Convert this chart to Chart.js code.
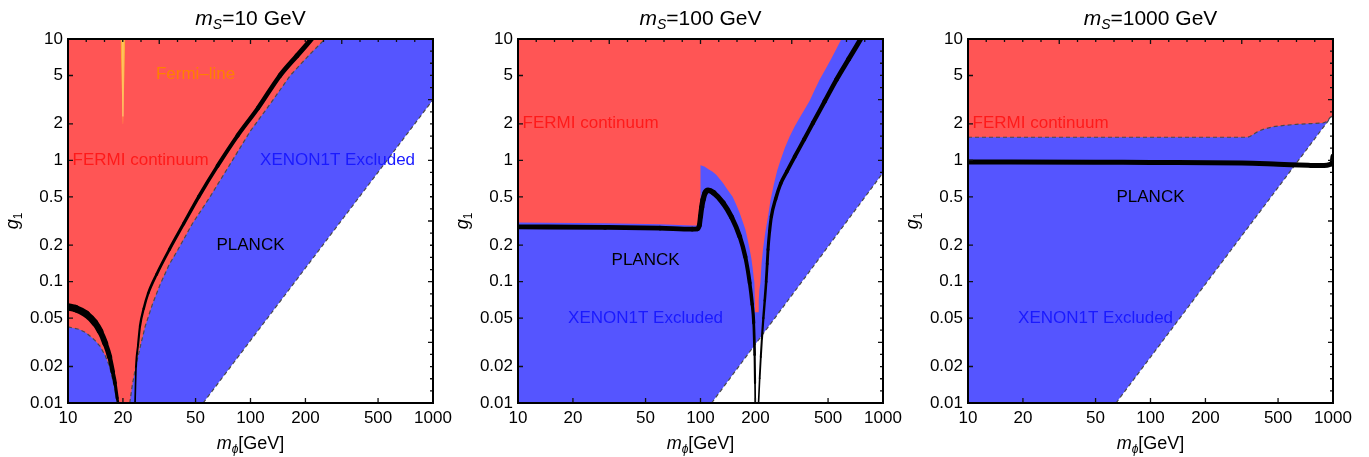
<!DOCTYPE html>
<html lang="en">
<head>
<meta charset="UTF-8">
<title>g1 vs m_phi for three m_S</title>
<script src="https://cdn.jsdelivr.net/npm/chart.js"></script>
<style>
  body { margin: 0; background: #fff; }
  .wrap { position: relative; width: 1369px; height: 457px; }
  canvas { position: absolute; top: 0; }
</style>
</head>
<body>
<div class="wrap">
  <canvas id="c1" width="458" height="457" style="left:0px"></canvas>
  <canvas id="c2" width="458" height="457" style="left:450px"></canvas>
  <canvas id="c3" width="458" height="457" style="left:900px"></canvas>
</div>
<script>
// axes
const xTicks = [10, 20, 50, 100, 200, 500, 1000];
const yTicks = [0.01, 0.02, 0.05, 0.1, 0.2, 0.5, 1, 2, 5, 10];
const massS = [10, 100, 1000];

// m_S = 10 GeV  ([m_phi, g1] pairs)
const xenonEdge10 = [[10, 0.01], [55, 0.01], [1000, 3.16]];
const fermiEdge10 = [
  [10, 0.0424], [11.5, 0.0405], [12.6, 0.0378], [14, 0.033], [15, 0.0293], [16, 0.0245],
  [16.9, 0.02], [17.6, 0.0155], [18.1, 0.0129], [18.6, 0.01],
  [21.8, 0.01], [22.5, 0.014], [23.5, 0.02], [25, 0.03], [26.5, 0.043], [29, 0.065],
  [32, 0.095], [36, 0.14], [40, 0.183], [48, 0.3], [60, 0.5], [78, 0.95], [100, 1.75],
  [130, 3], [165, 5], [210, 7.4], [256, 10], [1000, 10]
];
const planckLeft10 = [
  [10, 0.062], [11, 0.06], [12.6, 0.054], [14, 0.046], [15, 0.039], [16, 0.031],
  [16.9, 0.024], [17.6, 0.018], [18.1, 0.0146], [18.6, 0.011], [18.8, 0.01]
];
const planckRight10 = [
  [23.3, 0.01], [23.6, 0.02], [24.2, 0.03], [24.8, 0.043], [26, 0.06], [27.5, 0.08],
  [30.6, 0.115], [36, 0.185], [43, 0.3], [52, 0.5], [66, 0.9], [85, 1.6], [110, 2.7],
  [145, 5], [180, 7.3], [216, 10]
];
const fermiLine10 = [[19.4, 10], [19.96, 2], [20.04, 2], [20.6, 10]];
const fermiLineCore10 = [[20, 2.3], [20, 10]];

// m_S = 100 GeV
const xenonEdge100 = [[10, 0.01], [115, 0.01], [1000, 0.79]];
const fermiEdge100 = [
  [10, 0.308], [30, 0.303], [60, 0.297], [90, 0.29], [99.5, 0.29], [100, 0.91],
  [105, 0.89], [110, 0.85], [116, 0.81], [122, 0.76], [132.8, 0.651], [141, 0.57],
  [150, 0.5], [157, 0.43], [164, 0.368], [170, 0.315], [176, 0.27], [181, 0.225],
  [186, 0.184], [190, 0.155], [193, 0.13], [195.5, 0.11], [197.5, 0.0976], [198.5, 0.07],
  [199, 0.056], [207.5, 0.056], [208.5, 0.07], [210, 0.085], [212.9, 0.0976], [216, 0.14],
  [220, 0.184], [226, 0.25], [234.4, 0.345], [242, 0.47], [252, 0.63], [263, 0.82],
  [275, 1.01], [290, 1.27], [308, 1.57], [328, 1.9], [350, 2.25], [373, 2.65], [396.5, 3.1],
  [422, 3.8], [450, 4.63], [483, 5.6], [517, 6.76], [553, 8.2], [592, 10], [1000, 10]
];
const planckMain100 = [
  [10, 0.283], [30, 0.28], [60, 0.276], [90, 0.271], [96, 0.272], [98.5, 0.29], [100, 0.345],
  [101.5, 0.41], [103.3, 0.474], [106, 0.54], [110, 0.566], [118, 0.54], [132.8, 0.446],
  [148, 0.34], [164, 0.236], [176, 0.16], [186, 0.0976], [192, 0.065], [195.7, 0.0457],
  [198, 0.025], [199, 0.0146], [199.5, 0.01]
];
const planckRight100 = [
  [208, 0.01], [211, 0.016], [214, 0.024], [217, 0.034], [221, 0.05], [225, 0.07],
  [229, 0.1], [232, 0.14], [234.4, 0.184], [239, 0.26], [244.6, 0.345], [258, 0.48],
  [275, 0.643], [297, 0.807], [328, 1.069], [370, 1.49], [413, 2.03], [479, 3.06],
  [556, 4.63], [649, 6.84], [755, 10]
];

// m_S = 1000 GeV
const xenonEdge1000 = [[10, 0.01], [64.7, 0.01], [1000, 2.39]];
const fermiEdge1000 = [
  [10, 1.55], [100, 1.55], [340, 1.55], [350, 1.57], [360, 1.61], [374, 1.67], [388, 1.73],
  [410, 1.79], [430, 1.83], [469, 1.89], [540, 1.94], [630, 1.98], [760, 2.01], [882, 2.03],
  [920, 2.08], [945, 2.17], [970, 2.28], [1000, 2.4]
];
const planck1000 = [
  [10, 0.97], [50, 0.965], [100, 0.96], [316, 0.952], [500, 0.93], [731, 0.91], [850, 0.905],
  [927, 0.91], [965, 0.925], [988, 0.95], [1000, 1.08]
];

// region labels: [text, m_phi, g1, kind]
const notes10 = [
  ['Fermi\u2013line', 50, 5.1, 'line'],
  ['FERMI continuum', 25, 1, 'fermi'],
  ['XENON1T Excluded', 300, 1, 'xenon'],
  ['PLANCK', 100, 0.2, 'planck']
];
const notes100 = [
  ['FERMI continuum', 25, 2, 'fermi'],
  ['PLANCK', 50, 0.151, 'planck'],
  ['XENON1T Excluded', 50, 0.05, 'xenon']
];
const notes1000 = [
  ['FERMI continuum', 25, 2, 'fermi'],
  ['PLANCK', 100, 0.5, 'planck'],
  ['XENON1T Excluded', 50, 0.05, 'xenon']
];

const RED = '#ff5555';
const BLUE = '#5555ff';
const DASH = '#4a4a4a';
const FONT = '"Liberation Sans", Arial, "DejaVu Sans", sans-serif';
const noteColor = { line: '#ff8000', fermi: '#ff1a1a', xenon: '#1a1aff', planck: '#000' };

const pts = arr => arr.map(([x, y]) => ({ x, y }));
const onFrame = (a, b) =>
  (a.y <= 0.01001 && b.y <= 0.01001) || (a.y >= 9.999 && b.y >= 9.999) || (a.x >= 999.9 && b.x >= 999.9);

// filled region above an edge, up to the top of the frame
function regionSet(edge, color, order) {
  return {
    data: pts(edge), showLine: true, fill: 'end', backgroundColor: color,
    borderWidth: 0, pointRadius: 0, tension: 0, order: order, clip: 0
  };
}

// dashed outline of a region, hidden where it runs along the frame
function edgeSet(edge, order) {
  return {
    data: pts(edge), showLine: true, fill: false, borderColor: DASH, borderWidth: 1.2,
    borderDash: [4, 3], pointRadius: 0, tension: 0, order: order, clip: 0,
    segment: { borderColor: c => onFrame(c.p0.parsed, c.p1.parsed) ? 'rgba(0,0,0,0)' : undefined }
  };
}

function planckSet(curve, thin, thick) {
  const ys = curve.map(p => Math.log10(p[1]));
  const lo = Math.min(...ys), hi = Math.max(...ys);
  return {
    data: pts(curve), showLine: true, fill: false, borderColor: '#000', borderWidth: thick,
    borderCapStyle: 'round', borderJoinStyle: 'round', pointRadius: 0,
    cubicInterpolationMode: 'monotone', order: 1, clip: 0,
    segment: {
      borderWidth: c => {
        const m = (Math.log10(c.p0.parsed.y) + Math.log10(c.p1.parsed.y)) / 2;
        const t = hi > lo ? (m - lo) / (hi - lo) : 1;
        return thin + (thick - thin) * t;
      }
    }
  };
}

function richText(ctx, parts, cx, baseY) {
  let w = 0;
  parts.forEach(p => { ctx.font = p.font; p.w = ctx.measureText(p.t).width; w += p.w; });
  let x = cx - w / 2;
  ctx.textAlign = 'left';
  ctx.textBaseline = 'alphabetic';
  parts.forEach(p => { ctx.font = p.font; ctx.fillText(p.t, x, baseY + (p.dy || 0)); x += p.w; });
}

const decor = {
  id: 'decor',
  afterDatasetsDraw(chart) {
    const { ctx, chartArea: a, scales: { x, y } } = chart;
    ctx.save();
    // region labels
    ctx.font = '17px ' + FONT;
    ctx.textAlign = 'center';
    ctx.textBaseline = 'middle';
    chart.options.plugins.decor.notes.forEach(([t, vx, vy, kind]) => {
      ctx.fillStyle = noteColor[kind];
      ctx.fillText(t, x.getPixelForValue(vx), y.getPixelForValue(vy));
    });
    // frame ticks, inward
    ctx.strokeStyle = '#111';
    ctx.lineWidth = 1.3;
    ctx.beginPath();
    xTicks.forEach(v => {
      const p = x.getPixelForValue(v);
      ctx.moveTo(p, a.bottom); ctx.lineTo(p, a.bottom - 5);
    });
    yTicks.forEach(v => {
      const p = y.getPixelForValue(v);
      ctx.moveTo(a.left, p); ctx.lineTo(a.left + 5, p);
    });
    for (let k = 0; k <= 20; k++) {
      const p = x.getPixelForValue(Math.pow(10, 1 + k / 10));
      ctx.moveTo(p, a.top); ctx.lineTo(p, a.top + (k % 5 === 0 ? 5 : 3));
    }
    for (let k = 0; k <= 30; k++) {
      const p = y.getPixelForValue(Math.pow(10, -2 + k / 10));
      ctx.moveTo(a.right, p); ctx.lineTo(a.right - (k % 5 === 0 ? 5 : 3), p);
    }
    ctx.stroke();
    ctx.lineWidth = 2;
    ctx.strokeStyle = '#000';
    ctx.strokeRect(a.left, a.top, a.right - a.left, a.bottom - a.top);
    ctx.restore();
  },
  afterDraw(chart) {
    const { ctx, chartArea: a } = chart;
    const cx = (a.left + a.right) / 2;
    const mass = chart.options.plugins.decor.mass;
    ctx.save();
    ctx.fillStyle = '#000';
    richText(ctx, [
      { t: 'm', font: 'italic 21px ' + FONT },
      { t: 'S', font: 'italic 14px ' + FONT, dy: 4 },
      { t: '=' + mass + ' GeV', font: '21px ' + FONT }
    ], cx, 25);
    richText(ctx, [
      { t: 'm', font: 'italic 18px ' + FONT },
      { t: '\u03d5', font: 'italic 12px ' + FONT, dy: 4 },
      { t: '[GeV]', font: '18px ' + FONT }
    ], cx, 449);
    ctx.translate(a.left - 50, (a.top + a.bottom) / 2);
    ctx.rotate(-Math.PI / 2);
    richText(ctx, [
      { t: 'g', font: 'italic 18px ' + FONT },
      { t: '1', font: '12px ' + FONT, dy: 4 }
    ], 0, 0);
    ctx.restore();
  }
};

function makePanel(id, mass, sets, notes) {
  new Chart(document.getElementById(id), {
    type: 'scatter',
    data: { datasets: sets },
    plugins: [decor],
    options: {
      responsive: false,
      animation: false,
      events: [],
      layout: { padding: { top: 39, right: 25, left: 0, bottom: 0 } },
      plugins: {
        legend: { display: false },
        tooltip: { enabled: false },
        decor: { mass: mass, notes: notes }
      },
      scales: {
        x: {
          type: 'logarithmic', min: 10, max: 1000, position: 'bottom',
          grid: { display: false, drawTicks: false }, border: { display: false },
          afterBuildTicks: s => { s.ticks = xTicks.map(v => ({ value: v })); },
          afterFit: s => { s.height = 54; },
          ticks: {
            callback: v => String(v), color: '#000', padding: 5,
            font: { family: FONT, size: 17 }, maxRotation: 0, autoSkip: false
          }
        },
        y: {
          type: 'logarithmic', min: 0.01, max: 10, position: 'left',
          grid: { display: false, drawTicks: false }, border: { display: false },
          afterBuildTicks: s => { s.ticks = yTicks.map(v => ({ value: v })); },
          afterFit: s => { s.width = 68; },
          ticks: {
            callback: v => String(v), color: '#000', padding: 5,
            font: { family: FONT, size: 17 }, autoSkip: false
          }
        }
      }
    }
  });
}

makePanel('c1', massS[0], [
  planckSet(planckLeft10, 2.5, 7.5),
  planckSet(planckRight10, 1.5, 5),
  { data: pts(fermiLineCore10), showLine: true, borderColor: '#ffd27a', borderWidth: 1,
    pointRadius: 0, order: 3, clip: 0 },
  { data: pts(fermiLine10), showLine: true, fill: 'end', backgroundColor: '#ffad3b',
    borderWidth: 0, pointRadius: 0, order: 4, clip: 0 },
  edgeSet(fermiEdge10, 5),
  regionSet(fermiEdge10, RED, 6),
  edgeSet(xenonEdge10, 7),
  regionSet(xenonEdge10, BLUE, 8)
], notes10);

makePanel('c2', massS[1], [
  planckSet(planckMain100, 1.5, 5.5),
  planckSet(planckRight100, 1.5, 5),
  regionSet(fermiEdge100, RED, 6),
  edgeSet(xenonEdge100, 7),
  regionSet(xenonEdge100, BLUE, 8)
], notes100);

makePanel('c3', massS[2], [
  planckSet(planck1000, 5, 5),
  edgeSet(fermiEdge1000, 5),
  regionSet(fermiEdge1000, RED, 6),
  edgeSet(xenonEdge1000, 7),
  regionSet(xenonEdge1000, BLUE, 8)
], notes1000);
</script>
</body>
</html>
